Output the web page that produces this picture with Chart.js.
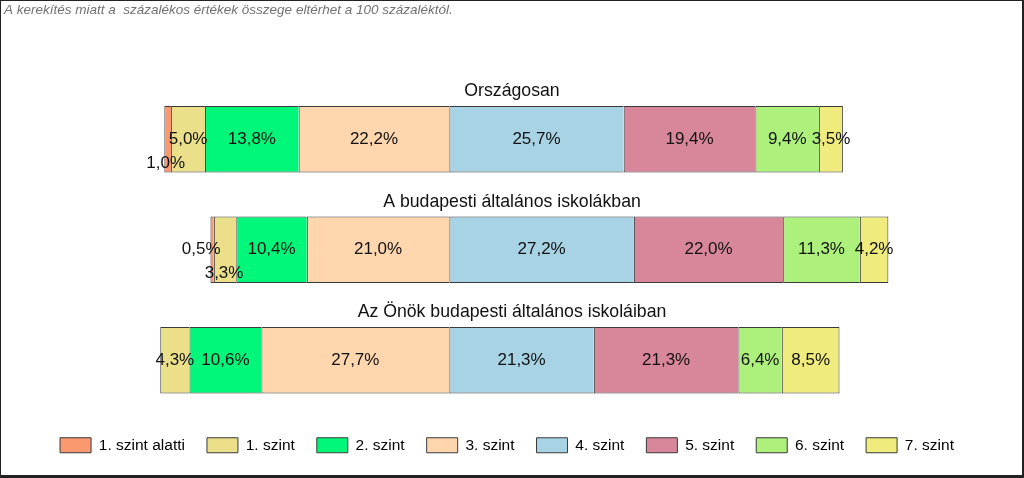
<!DOCTYPE html>
<html>
<head>
<meta charset="utf-8">
<title>Szintek megoszlása</title>
<script src="https://cdn.jsdelivr.net/npm/chart.js@4.4.1/dist/chart.umd.min.js"></script>
<style>
html, body { margin: 0; padding: 0; background: #fff; }
#wrap { width: 1024px; height: 478px; }
</style>
</head>
<body>
<div id="wrap"><canvas id="c" width="1024" height="478"></canvas></div>
<script>
// szintek (legend) es csoportok
var levels = ['1. szint alatti', '1. szint', '2. szint', '3. szint', '4. szint', '5. szint', '6. szint', '7. szint'];
var groups = ['Országosan', 'A budapesti általános iskolákban', 'Az Önök budapesti általános iskoláiban'];

// szazalekos ertekek szintenkent
var orszagos = [1.0, 5.0, 13.8, 22.2, 25.7, 19.4, 9.4, 3.5];
var budapest = [0.5, 3.3, 10.4, 21.0, 27.2, 22.0, 11.3, 4.2];
var onok = [0, 4.3, 10.6, 27.7, 21.3, 21.3, 6.4, 8.5];

var note = 'A kerekítés miatt a  százalékos értékek összege eltérhet a 100 százaléktól.';

var levelColors = ['#FA9870', '#EBDF8A', '#00F77A', '#FFD6AD', '#A8D3E4', '#D8879A', '#ADF07C', '#EFEB7C'];
var edgeColor = '#3a3a3a';
var fontFamily = '"Liberation Sans", Arial, sans-serif';

var series = [orszagos, budapest, onok];
var splitAt = 4; // 4. szint-tol kezdve jobbra

// a 3. es 4. szint hatara a nulla
function range(values, k) {
	var i, s = 0;
	if (!values[k]) return null;
	if (k < splitAt) {
		for (i = k + 1; i < splitAt; i++) s += values[i];
		return [-(s + values[k]), -s];
	}
	for (i = splitAt; i < k; i++) s += values[i];
	return [s, s + values[k]];
}

function fmt(v) {
	return v.toFixed(1).replace('.', ',') + '%';
}

var datasets = levels.map(function (name, k) {
	return {
		label: name,
		data: series.map(function (vals) { return range(vals, k); }),
		values: series.map(function (vals) { return vals[k]; }),
		backgroundColor: levelColors[k],
		borderColor: edgeColor,
		borderWidth: {top: 1, bottom: 1, left: 1, right: k === levels.length - 1 ? 1 : 0},
		borderSkipped: false
	};
});

var textPlugin = {
	id: 'barTexts',
	beforeDraw: function (chart) {
		var ctx = chart.ctx;
		ctx.save();
		ctx.fillStyle = '#fff';
		ctx.fillRect(0, 0, chart.width, chart.height);
		ctx.restore();
	},
	afterDatasetsDraw: function (chart, args, opts) {
		var ctx = chart.ctx;
		ctx.save();
		ctx.font = '17px ' + fontFamily;
		ctx.fillStyle = '#111';
		ctx.textAlign = 'center';
		ctx.textBaseline = 'middle';
		chart.data.datasets.forEach(function (ds, i) {
			var meta = chart.getDatasetMeta(i);
			meta.data.forEach(function (el, g) {
				var v = ds.values[g];
				if (!v) return;
				var p = el.getCenterPoint();
				var n = opts.nudge[g + ':' + i] || [0, 0];
				ctx.fillText(fmt(v), p.x + n[0], p.y + n[1]);
			});
		});
		// csoport cimek a savok felett
		var ref = chart.getDatasetMeta(splitAt);
		ctx.font = '17.7px ' + fontFamily;
		ctx.textBaseline = 'alphabetic';
		groups.forEach(function (t, g) {
			var el = ref.data[g];
			ctx.fillText(t, chart.width / 2, el.y - el.height / 2 - 10);
		});
		ctx.restore();
	},
	afterDraw: function (chart) {
		var ctx = chart.ctx;
		ctx.save();
		ctx.font = 'italic 13.5px ' + fontFamily;
		ctx.fillStyle = '#727272';
		ctx.textAlign = 'left';
		ctx.textBaseline = 'alphabetic';
		ctx.fillText(note, 4, 14);
		// keret
		ctx.fillStyle = '#222';
		ctx.fillRect(0, 0, chart.width, 1);
		ctx.fillRect(0, 0, 1, chart.height);
		ctx.fillRect(chart.width - 2, 0, 2, chart.height);
		ctx.fillRect(0, chart.height - 3, chart.width, 3);
		ctx.restore();
	}
};

var chart = new Chart(document.getElementById('c'), {
	type: 'bar',
	data: {labels: groups, datasets: datasets},
	plugins: [textPlugin],
	options: {
		indexAxis: 'y',
		responsive: false,
		animation: false,
		layout: {padding: {left: 32, right: 42, top: 84, bottom: 15}},
		datasets: {bar: {grouped: false, categoryPercentage: 1, barPercentage: 0.6}},
		scales: {
			x: {display: false, min: -61.5, max: 78.5},
			y: {display: false}
		},
		plugins: {
			tooltip: {enabled: false},
			barTexts: {nudge: {'0:0': [-2, 24], '1:0': [-11, 0], '1:1': [-1, 24]}},
			legend: {
				position: 'bottom',
				labels: {
					boxWidth: 31,
					boxHeight: 15,
					padding: 22,
					color: '#000',
					font: {family: fontFamily, size: 15.5},
					generateLabels: function (c) {
						var items = Chart.defaults.plugins.legend.labels.generateLabels(c);
						items.forEach(function (it) { it.lineWidth = 1; });
						return items;
					}
				}
			}
		}
	}
});
</script>
</body>
</html>
